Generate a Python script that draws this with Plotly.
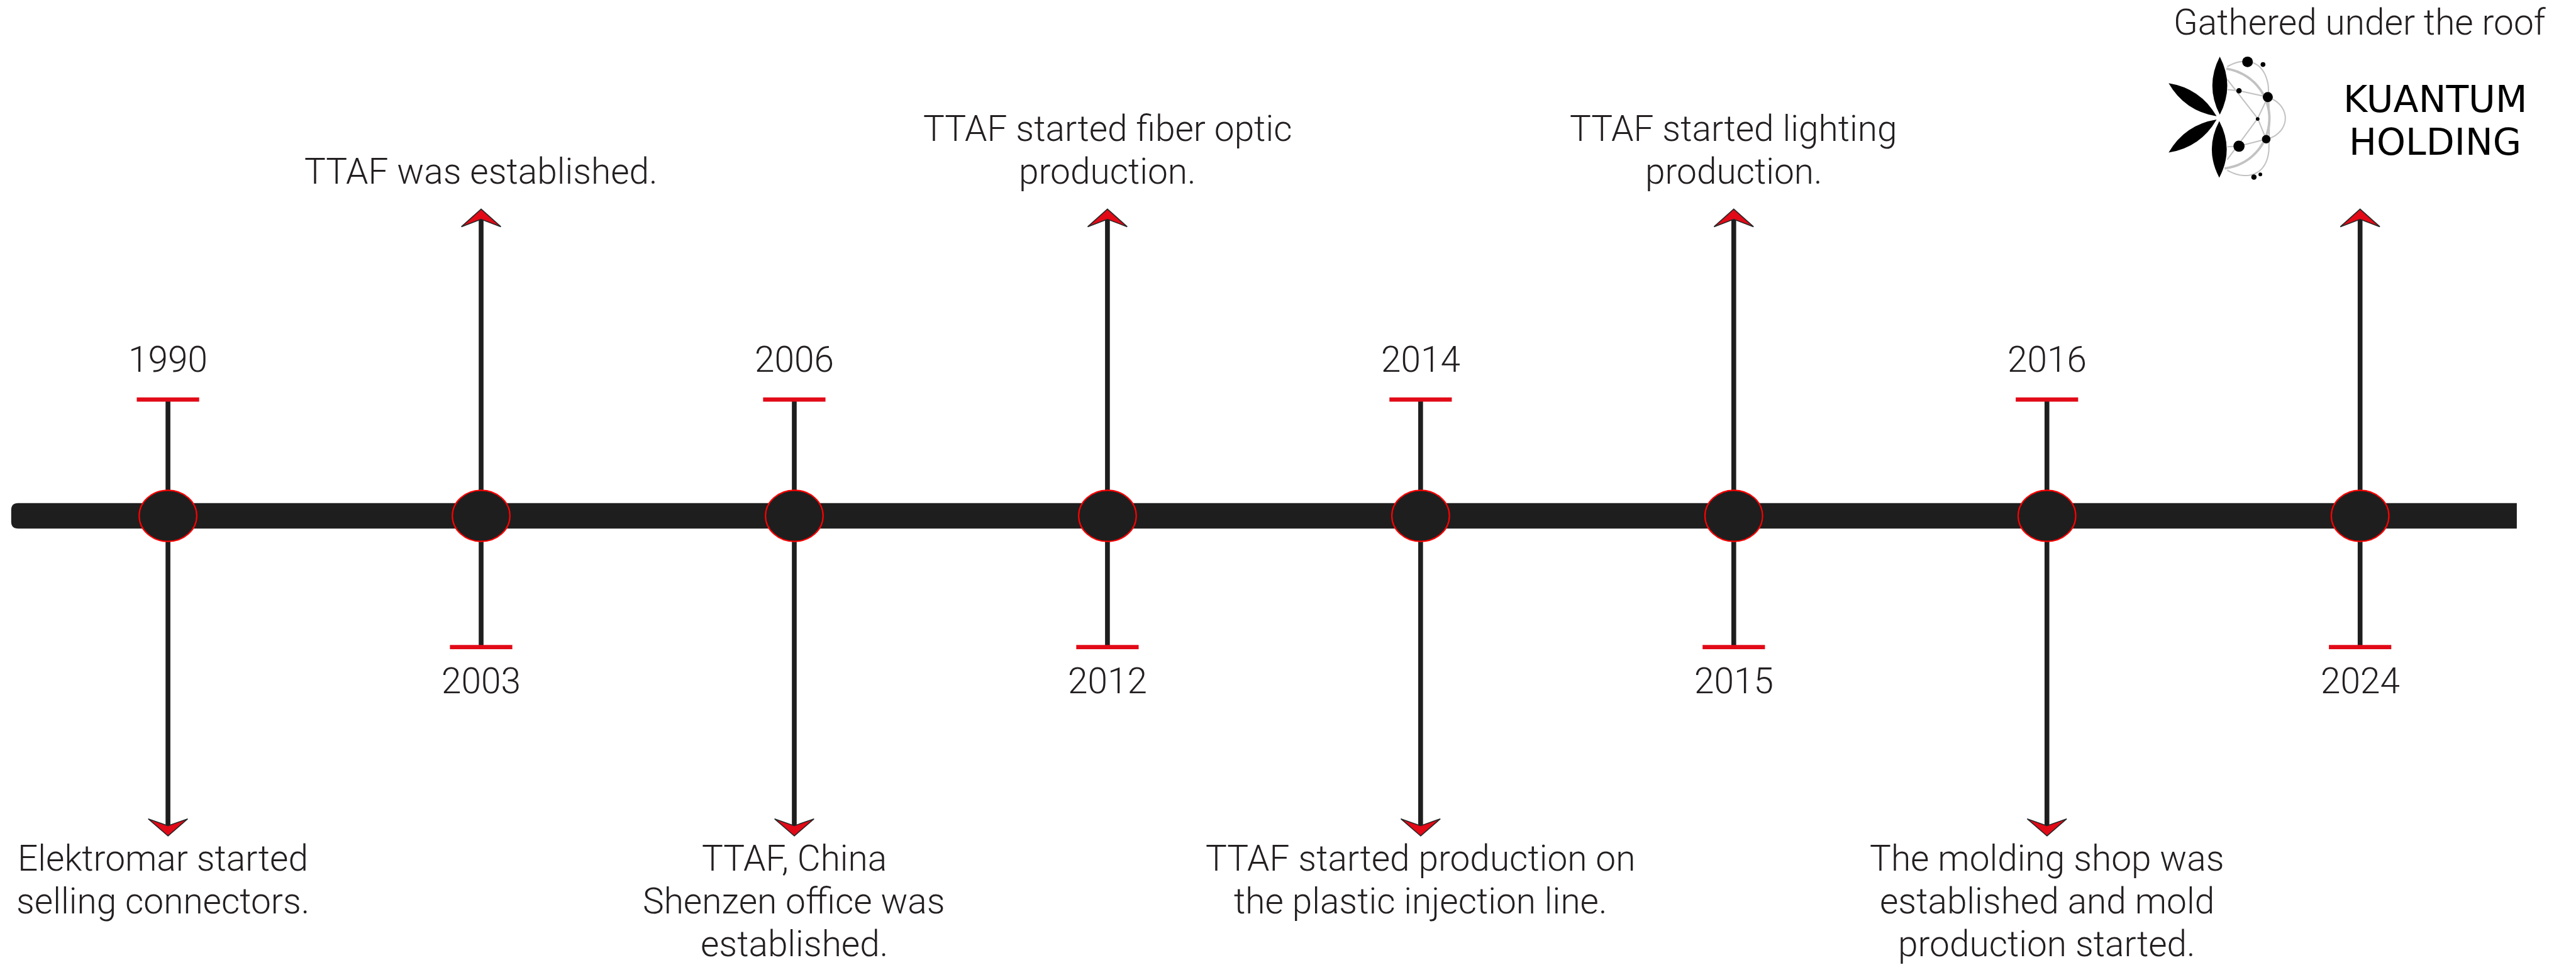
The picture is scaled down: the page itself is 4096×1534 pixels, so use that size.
import numpy as np
import plotly.graph_objects as go

# ---------------- data ----------------
years = ["1990", "2003", "2006", "2012", "2014", "2015", "2016", "2024"]
event_lines = [
    ["Elektromar started", "selling connectors."],
    ["TTAF was established."],
    ["TTAF, China", "Shenzen office was", "established."],
    ["TTAF started fiber optic", "production."],
    ["TTAF started production on", "the plastic injection line."],
    ["TTAF started lighting", "production."],
    ["The molding shop was", "established and mold", "production started."],
    ["Gathered under the roof"],
]
event_side = ["below", "above", "below", "above", "below", "above", "below", "above"]
logo_words = ["KUANTUM", "HOLDING"]

# ---------------- layout constants (reference pixel units) ----------------
W_REF, H_REF = 4831, 1809
W_OUT, H_OUT = 4096, 1534
S = W_OUT / W_REF

X0, STEP = 315, 587.3          # first node and spacing along the timeline
AXIS_Y = 967                   # timeline centre
BAR_TOP, BAR_BOT = 943, 991
BAR_LEFT, BAR_RIGHT, BAR_R = 21, 4720, 13
NODE_RX, NODE_RY = 54, 48
CAP_HALF, CAP_T = 58.5, 8
CAP_TOP_Y, CAP_BOT_Y = 749, 1213
YEAR_TOP_Y, YEAR_BOT_Y = 674, 1276
UP_TIP, UP_NOTCH, UP_WING = 392, 411, 425
DN_TIP, DN_NOTCH, DN_WING = 1567, 1548, 1535
ARW_HALF = 37
BASE_BELOW, BASE_ABOVE, LINE_GAP, BASE_TO_MID = 1632, 344, 80, 23
TEXT_DX = {0: -10}
TOP_TEXT_Y = 42
LOGO_TEXT_X, LOGO_TEXT_Y = 4567, [186.5, 267]

DARK = "#1e1e1e"
RED = "#e20a17"
RING = "#ff0000"
TXT = "#231f20"
GRAY = "#c2c2c2"
FONT = "Roboto Light, Roboto"
FS = 67 * S

shapes = []
annotations = []

# main bar with rounded left end
shapes.append(dict(
    type="path",
    path=(f"M {BAR_RIGHT},{BAR_TOP} L {BAR_LEFT+BAR_R},{BAR_TOP} "
          f"Q {BAR_LEFT},{BAR_TOP} {BAR_LEFT},{BAR_TOP+BAR_R} "
          f"L {BAR_LEFT},{BAR_BOT-BAR_R} Q {BAR_LEFT},{BAR_BOT} {BAR_LEFT+BAR_R},{BAR_BOT} "
          f"L {BAR_RIGHT},{BAR_BOT} Z"),
    fillcolor=DARK, line=dict(width=0)))

node_x = [X0 + i * STEP for i in range(len(years))]

# stems
for xc, side in zip(node_x, event_side):
    if side == "below":
        y0, y1 = CAP_TOP_Y, DN_NOTCH
    else:
        y0, y1 = UP_NOTCH, CAP_BOT_Y
    shapes.append(dict(type="line", x0=xc, x1=xc, y0=y0, y1=y1,
                       line=dict(color=DARK, width=9 * S)))

# nodes, caps, arrow heads, labels
for i, (xc, yr, lines, side) in enumerate(zip(node_x, years, event_lines, event_side)):
    shapes.append(dict(type="circle", x0=xc - NODE_RX, x1=xc + NODE_RX,
                       y0=AXIS_Y - NODE_RY, y1=AXIS_Y + NODE_RY,
                       fillcolor=DARK, line=dict(color=RING, width=2.2)))
    cap_y = CAP_TOP_Y if side == "below" else CAP_BOT_Y
    shapes.append(dict(type="rect", x0=xc - CAP_HALF, x1=xc + CAP_HALF,
                       y0=cap_y - CAP_T / 2, y1=cap_y + CAP_T / 2,
                       fillcolor=RED, line=dict(width=0)))
    if side == "below":
        tip, notch, wing = DN_TIP, DN_NOTCH, DN_WING
    else:
        tip, notch, wing = UP_TIP, UP_NOTCH, UP_WING
    shapes.append(dict(type="path",
                       path=(f"M {xc},{tip} L {xc+ARW_HALF},{wing} L {xc},{notch} "
                             f"L {xc-ARW_HALF},{wing} Z"),
                       fillcolor=RED, line=dict(color="#262626", width=1.6)))
    # year
    annotations.append(dict(x=xc, y=YEAR_TOP_Y if side == "below" else YEAR_BOT_Y,
                            text=yr, showarrow=False, xanchor="center", yanchor="middle",
                            font=dict(family=FONT, size=FS, color=TXT, weight=300)))
    # event text, one annotation per line at its baseline
    n = len(lines)
    for k, line in enumerate(lines):
        if i == len(years) - 1:
            ty = TOP_TEXT_Y
        elif side == "below":
            ty = BASE_BELOW + k * LINE_GAP - BASE_TO_MID
        else:
            ty = BASE_ABOVE - (n - 1 - k) * LINE_GAP - BASE_TO_MID
        annotations.append(dict(x=xc + TEXT_DX.get(i, 0), y=ty, text=line, showarrow=False,
                                xanchor="center", yanchor="middle",
                                font=dict(family=FONT, size=FS, color=TXT, weight=300)))

# ---------------- logo (decorative) ----------------
LX, LY = 4162, 222


def P(dx, dy):
    return LX + dx, LY + dy


def lens(p0, p2, w):
    (x0, y0), (x2, y2) = P(*p0), P(*p2)
    mx, my = (x0 + x2) / 2, (y0 + y2) / 2
    dx, dy = x2 - x0, y2 - y0
    L = np.hypot(dx, dy)
    nx, ny = -dy / L, dx / L
    c1 = (mx + 2 * w * nx, my + 2 * w * ny)
    c2 = (mx - 2 * w * nx, my - 2 * w * ny)
    return (f"M {x0},{y0} Q {c1[0]},{c1[1]} {x2},{y2} "
            f"Q {c2[0]},{c2[1]} {x0},{y0} Z")


def poly(pts):
    pts = [P(*p) for p in pts]
    return "M " + " L ".join(f"{x:.1f},{y:.1f}" for x, y in pts)


def cubic(p0, c1, c2, p3, n=30):
    t = np.linspace(0, 1, n)[:, None]
    p0, c1, c2, p3 = map(np.array, (p0, c1, c2, p3))
    pts = (1 - t) ** 3 * p0 + 3 * (1 - t) ** 2 * t * c1 + 3 * (1 - t) * t ** 2 * c2 + t ** 3 * p3
    return [tuple(p) for p in pts]


# thick gray arc
th = np.radians(np.linspace(-82, 84, 60))
arc_pts = [(94 * np.cos(t), 94 * np.sin(t)) for t in th]
shapes.append(dict(type="path", path=poly(arc_pts), line=dict(color=GRAY, width=4.5 * S)))

outer = (cubic((15, -97), (45, -115), (85, -112), (92, -60))
         + [(94, 0)]
         + cubic((93, 60), (88, 112), (45, 115), (15, 97)))
thin_paths = [
    outer,
    cubic((91, -40), (135, -25), (135, 25), (90, 39)),
    [(15, -54), (37, -52), (91, -40)],
    [(15, 53), (37, 52), (88, 39)],
    [(15, -73), (72, 0), (15, 77)],
    [(91, -40), (72, 0), (88, 39)],
]
for pts in thin_paths:
    shapes.append(dict(type="path", path=poly(pts), line=dict(color=GRAY, width=2.4 * S)))

# petals
for p0, p2, w in [((1, -116), (1, -7), 14), ((0, 5), (0, 111), 14),
                  ((-5, -4), (-95, -66), 13), ((-5, 2), (-95, 64), 13)]:
    shapes.append(dict(type="path", path=lens(p0, p2, w), fillcolor="#000000",
                       line=dict(width=0)))

# dots
for dx, dy, r in [(53, -106, 10), (82, -101, 4.5), (37, -52, 5), (91, -40, 9.5),
                  (72, 1, 3.5), (88, 39, 8), (37, 52, 10.5), (65, 110, 5), (77, 105, 3.5)]:
    cx, cy = P(dx, dy)
    shapes.append(dict(type="circle", x0=cx - r, x1=cx + r, y0=cy - r, y1=cy + r,
                       fillcolor="#000000", line=dict(width=0)))

for word, wy in zip(logo_words, LOGO_TEXT_Y):
    annotations.append(dict(x=LOGO_TEXT_X, y=wy, text=word, showarrow=False,
                            xanchor="center", yanchor="middle",
                            font=dict(family="DejaVu Sans", size=69 * S, color="#000000")))

fig = go.Figure()
fig.add_trace(go.Scatter(x=[None], y=[None], showlegend=False, hoverinfo="skip"))
fig.update_layout(
    width=W_OUT, height=H_OUT,
    margin=dict(l=0, r=0, t=0, b=0),
    paper_bgcolor="white", plot_bgcolor="white",
    shapes=shapes, annotations=annotations,
    showlegend=False,
    xaxis=dict(range=[0, W_REF], visible=False, fixedrange=True),
    yaxis=dict(range=[H_REF, 0], visible=False, fixedrange=True),
)
fig.write_html("out.html", config={"displayModeBar": False},
               post_script="document.body.style.margin='0px';document.body.style.overflow='hidden';")
